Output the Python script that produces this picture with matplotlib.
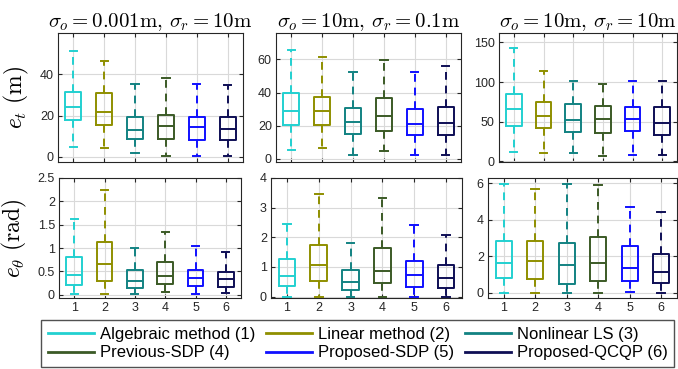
import numpy as np
import matplotlib.pyplot as plt
from matplotlib.lines import Line2D

plt.rcParams['mathtext.fontset'] = 'cm'
plt.rcParams['font.family'] = ['Liberation Sans', 'DejaVu Sans']

methods = ['Algebraic method (1)', 'Linear method (2)', 'Nonlinear LS (3)',
           'Previous-SDP (4)', 'Proposed-SDP (5)', 'Proposed-QCQP (6)']
colors = ['#22D0D0', '#8F8F00', '#128282', '#3B5A26', '#1010FF', '#0E0E55']

titles = [r'$\sigma_o = 0.001\mathrm{m},\, \sigma_r = 10\mathrm{m}$',
          r'$\sigma_o = 10\mathrm{m},\, \sigma_r = 0.1\mathrm{m}$',
          r'$\sigma_o = 10\mathrm{m},\, \sigma_r = 10\mathrm{m}$']

# box stats per method: [whisker low, q1, median, q3, whisker high]
et_a = [[5.0, 18.0, 24.0, 31.4, 51.4], [4.2, 15.6, 21.8, 30.7, 46.3],
        [2.0, 8.6, 13.2, 19.4, 35.1], [0.5, 8.8, 14.8, 20.5, 38.2],
        [0.5, 8.4, 14.3, 19.4, 35.5], [0.6, 8.3, 13.7, 19.4, 34.6]]
et_b = [[5.0, 20.6, 28.7, 39.8, 65.6], [6.2, 20.6, 28.7, 37.2, 61.6],
        [2.0, 15.0, 22.4, 30.5, 52.7], [4.4, 16.5, 25.9, 36.8, 59.6],
        [2.4, 14.5, 21.2, 30.1, 52.7], [2.0, 14.5, 21.4, 31.0, 55.8]]
et_c = [[12.2, 44.5, 65.5, 84.8, 142.7], [10.1, 41.6, 56.7, 75.2, 114.2],
        [10.1, 37.4, 52.0, 71.8, 100.8], [6.7, 36.1, 53.8, 69.6, 97.0],
        [8.4, 37.8, 52.9, 68.9, 100.8], [7.9, 33.1, 47.9, 68.9, 100.8]]
eth_a = [[0.02, 0.21, 0.43, 0.81, 1.62], [0.02, 0.30, 0.66, 1.14, 2.24],
         [0.02, 0.14, 0.29, 0.53, 1.01], [0.05, 0.23, 0.41, 0.70, 1.34],
         [0.02, 0.18, 0.36, 0.54, 1.04], [0.03, 0.17, 0.34, 0.49, 0.92]]
eth_b = [[0.0, 0.34, 0.70, 1.25, 2.44], [0.0, 0.53, 1.07, 1.73, 3.47],
         [0.0, 0.23, 0.50, 0.89, 1.80], [0.0, 0.44, 0.86, 1.65, 3.31],
         [0.0, 0.33, 0.73, 1.19, 2.43], [0.0, 0.30, 0.63, 1.06, 2.08]]
eth_c = [[0.0, 0.80, 1.62, 2.86, 5.95], [0.0, 0.78, 1.73, 2.86, 5.69],
         [0.0, 0.50, 1.54, 2.73, 5.97], [0.0, 0.67, 1.64, 3.07, 5.91],
         [0.04, 0.67, 1.39, 2.57, 4.72], [0.0, 0.54, 1.17, 2.14, 4.44]]

data = [[et_a, et_b, et_c], [eth_a, eth_b, eth_c]]
ylims = [[(-2.5, 60), (-2, 76), (-1, 162)],
         [(-0.07, 2.5), (-0.05, 4), (-0.28, 6.3)]]
yticks = [[[0, 20, 40], [0, 20, 40, 60], [0, 50, 100, 150]],
          [[0, 0.5, 1, 1.5, 2, 2.5], [0, 1, 2, 3, 4], [0, 2, 4, 6]]]
ylabels = [r'$e_t\ (\mathrm{m})$', r'$e_\theta\ (\mathrm{rad})$']

# axes rectangles in pixels: left, right, top, bottom
W, H = 678, 369
rects = [[(58, 243, 33, 162), (276, 461, 33, 162), (499, 677, 33, 162)],
         [(59, 241, 178, 298), (271, 462, 178, 298), (488, 677, 178, 298)]]

fig = plt.figure(figsize=(W / 100, H / 100), dpi=100)

for r in range(2):
  for c in range(3):
    l, rr, t, b = rects[r][c]
    ax = fig.add_axes([l / W, 1 - b / H, (rr - l) / W, (b - t) / H])
    stats = []
    for k, (lo, q1, med, q3, hi) in enumerate(data[r][c]):
      stats.append(dict(whislo=lo, q1=q1, med=med, q3=q3, whishi=hi,
                        fliers=[], label=str(k + 1)))
    bp = ax.bxp(stats, positions=np.arange(1, 7), widths=0.52,
                showfliers=False, patch_artist=False)
    for k in range(6):
      col = colors[k]
      bp['boxes'][k].set(color=col, linewidth=1.4)
      bp['medians'][k].set(color=col, linewidth=1.4)
      for w in bp['whiskers'][2 * k:2 * k + 2]:
        w.set(color=col, linewidth=1.4, linestyle=(0, (4, 3)))
      for cp in bp['caps'][2 * k:2 * k + 2]:
        cp.set(color=col, linewidth=1.4)
        x0, x1 = cp.get_xdata()
        xm = (x0 + x1) / 2
        cp.set_xdata([xm - 0.12, xm + 0.12])
    ax.set_xlim(0.5, 6.5)
    ax.set_ylim(*ylims[r][c])
    ax.set_yticks(yticks[r][c])
    ax.set_yticklabels([('%g' % v) for v in yticks[r][c]])
    ax.grid(True, color='#d9d9d9', linewidth=0.8)
    ax.set_axisbelow(True)
    ax.tick_params(direction='in', top=True, right=True, length=3,
                   labelsize=9, colors='#262626', pad=3)
    for s in ax.spines.values():
      s.set_color('#262626')
      s.set_linewidth(0.8)
    if r == 0:
      ax.set_xticklabels([])
      ax.set_title(titles[c], fontsize=15, pad=4)
    if c == 0:
      ax.set_ylabel(ylabels[r], fontsize=17, labelpad=6)

handles = [Line2D([], [], color=colors[k], linewidth=2) for k in range(6)]
order = [0, 3, 1, 4, 2, 5]
leg = fig.legend([handles[i] for i in order], [methods[i] for i in order],
                 ncol=3, loc='upper left', bbox_to_anchor=(41 / W, 1 - 320 / H),
                 fontsize=12, frameon=True, fancybox=False,
                 edgecolor='#262626', handlelength=2.75, handletextpad=0.36,
                 columnspacing=0.66, borderpad=0.4, labelspacing=0.22,
                 borderaxespad=0)
leg.get_frame().set_linewidth(1.0)

fig.savefig('out.png', dpi=100)
